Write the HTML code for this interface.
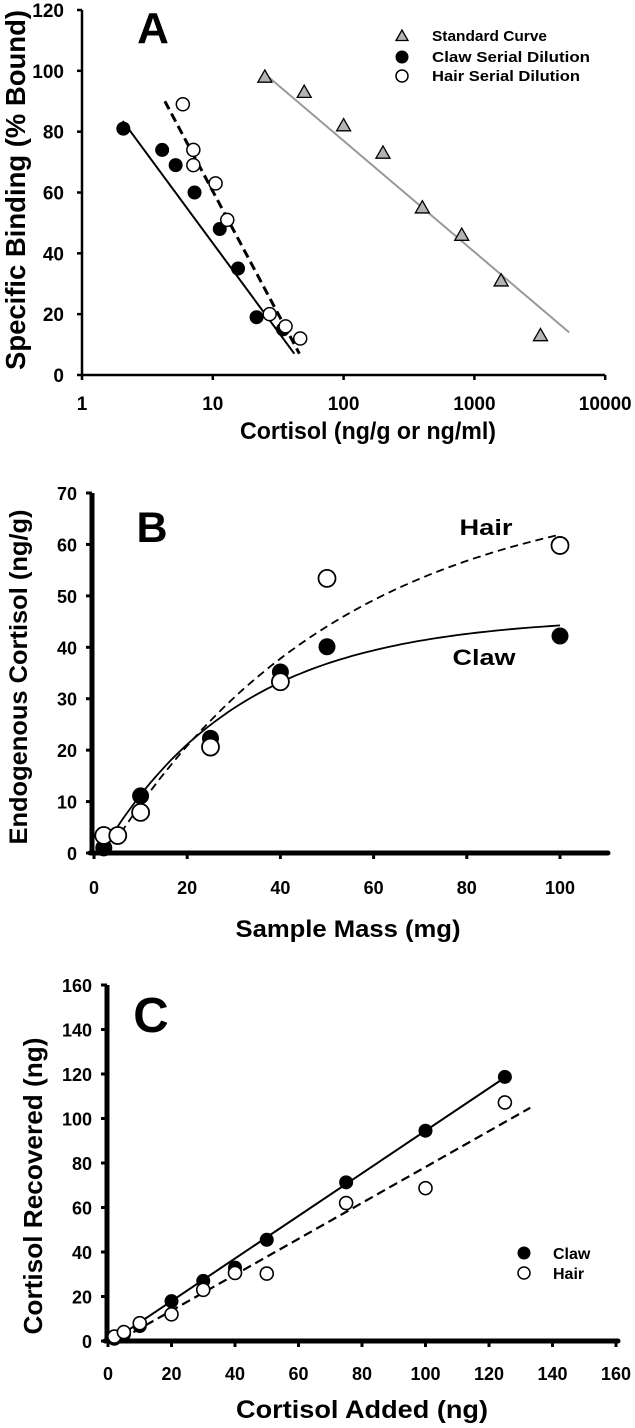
<!DOCTYPE html>
<html><head><meta charset="utf-8">
<style>
html,body{margin:0;padding:0;background:#fff;}
svg{display:block;font-family:"Liberation Sans",Arial,sans-serif;font-weight:bold;}
</style></head>
<body>
<svg id="fig" width="635" height="1428" viewBox="0 0 635 1428" xmlns="http://www.w3.org/2000/svg"></svg>
<script>
// ---------- Panel A data ----------
const aTicksX = [1, 10, 100, 1000, 10000];
const aTicksY = [0, 20, 40, 60, 80, 100, 120];
const stdX = [25, 50, 100, 200, 400, 800, 1600, 3200];
const stdY = [98, 93, 82, 73, 55, 46, 31, 13];
const clawAX = [2.07, 4.1, 5.2, 7.25, 11.3, 15.6, 21.6, 34.4];
const clawAY = [81, 74, 69, 60, 48, 35, 19, 15];
const hairAX = [5.9, 7.1, 7.1, 10.5, 12.9, 27.2, 36, 46.6];
const hairAY = [89, 74, 69, 63, 51, 20, 16, 12];
const stdLineX = [25, 5300];
const stdLineY = [99, 14];
const clawALineX = [2.05, 42];
const clawALineY = [83.5, 7];
const hairALineX = [4.3, 45.9];
const hairALineY = [90, 7];

// ---------- Panel B data ----------
const bTicksX = [0, 20, 40, 60, 80, 100];
const bTicksY = [0, 10, 20, 30, 40, 50, 60, 70];
const clawBX = [2.1, 10, 25, 40, 50, 100];
const clawBY = [1, 11.1, 22.3, 35.2, 40.1, 42.2];
const hairBX = [2.1, 5.1, 10, 25, 40, 50, 100];
const hairBY = [3.4, 3.4, 7.9, 20.6, 33.3, 53.4, 59.8];
// fit curve params: y = a*(1-exp(-b*(x-x0)))
const clawBFit = [46, 0.0332, 1.5];
const hairBFit = [72.3, 0.02, 3];
const clawBRange = [3.4, 100];
const hairBRange = [4.3, 100];

// ---------- Panel C data ----------
const cTicksX = [0, 20, 40, 60, 80, 100, 120, 140, 160];
const cTicksY = [0, 20, 40, 60, 80, 100, 120, 140, 160];
const clawCX = [2, 5, 10, 20, 30, 40, 50, 75, 100, 125];
const clawCY = [1, 3, 6.7, 17.9, 27, 33, 45.5, 71.3, 94.5, 118.7];
const hairCX = [2, 5, 10, 20, 30, 40, 50, 75, 100, 125];
const hairCY = [2, 4, 8, 12, 23, 30.6, 30.3, 62, 68.7, 107.2];
const clawCFit = [0.957, -1.2];
const hairCFit = [0.807, -2.5];
const clawCRange = [2.8, 125];
const hairCRange = [8, 133];

const NS = "http://www.w3.org/2000/svg";
const svg = document.getElementById('fig');
function mk(tag, attrs, parent, text){
  const e = document.createElementNS(NS, tag);
  for (const k in attrs) e.setAttribute(k, attrs[k]);
  if (text !== undefined) e.textContent = text;
  (parent || svg).appendChild(e);
  return e;
}

// ===== Panel A =====
const gA = mk('g', {});


const aX0 = 82, aDec = 130.8, aY0 = 375, aYs = (375 - 10) / 120;
const ax = v => aX0 + Math.log10(v) * aDec;
const ay = v => aY0 - v * aYs;
let e;
e = mk('line', {x1: aX0, y1: ay(120), x2: aX0, y2: aY0, stroke: '#000', 'stroke-width': 2.5}, gA);
 
e = mk('line', {x1: aX0, y1: aY0, x2: ax(10000), y2: aY0, stroke: '#000', 'stroke-width': 2.5}, gA);
 
aTicksY.forEach(t => {
  mk('line', {x1: aX0 - 5, y1: ay(t), x2: aX0, y2: ay(t), stroke: '#000', 'stroke-width': 2.5}, gA);
  e = mk('text', {x: aX0 - 18, y: ay(t) + 7, 'text-anchor': 'end', 'font-size': 19}, gA, String(t));
   
});
aTicksX.forEach(t => {
  mk('line', {x1: ax(t), y1: aY0, x2: ax(t), y2: aY0 + 5, stroke: '#000', 'stroke-width': 2.5}, gA);
  e = mk('text', {x: ax(t), y: 410, 'text-anchor': 'middle', 'font-size': 19}, gA, String(t));
   
});
e = mk('text', {x: 368, y: 439, 'text-anchor': 'middle', 'font-size': 24, textLength: 256, lengthAdjust: 'spacingAndGlyphs'}, gA, 'Cortisol (ng/g or ng/ml)');
 
e = mk('text', {x: 0, y: 0, 'text-anchor': 'middle', 'font-size': 28, textLength: 360, lengthAdjust: 'spacingAndGlyphs', transform: 'translate(25,190) rotate(-90)'}, gA, 'Specific Binding (% Bound)');
 
e = mk('text', {x: 153, y: 43, 'text-anchor': 'middle', 'font-size': 44}, gA, 'A');
 
e = mk('line', {x1: ax(stdLineX[0]), y1: ay(stdLineY[0]), x2: ax(stdLineX[1]), y2: ay(stdLineY[1]), stroke: '#999', 'stroke-width': 2}, gA);
 
e = mk('line', {x1: ax(clawALineX[0]), y1: ay(clawALineY[0]), x2: ax(clawALineX[1]), y2: ay(clawALineY[1]), stroke: '#000', 'stroke-width': 2}, gA);
 
e = mk('line', {x1: ax(hairALineX[0]), y1: ay(hairALineY[0]), x2: ax(hairALineX[1]), y2: ay(hairALineY[1]), stroke: '#000', 'stroke-width': 3, 'stroke-dasharray': '9,5'}, gA);
 
function tri(cx, cy, s, parent){
  return mk('polygon', {points: `${cx},${cy - s} ${cx - s},${cy + s * 0.75} ${cx + s},${cy + s * 0.75}`, fill: '#b3b3b3', stroke: '#000', 'stroke-width': 1.3}, parent);
}
stdX.forEach((v, i) => {
  e = tri(ax(v), ay(stdY[i]), 7, gA);
   
});
clawAX.forEach((v, i) => {
  e = mk('circle', {cx: ax(v), cy: ay(clawAY[i]), r: 7, fill: '#000'}, gA);
   
});
hairAX.forEach((v, i) => {
  e = mk('circle', {cx: ax(v), cy: ay(hairAY[i]), r: 6.5, fill: '#fff', stroke: '#000', 'stroke-width': 1.5}, gA);
   
});
const lgA = mk('g', {}, gA);
 
e = tri(402, 36, 6, lgA);  
e = mk('circle', {cx: 402, cy: 57, r: 6.5, fill: '#000'}, lgA);  
e = mk('circle', {cx: 402, cy: 76, r: 6, fill: '#fff', stroke: '#000', 'stroke-width': 1.5}, lgA);  
[['Standard Curve', 41, 115], ['Claw Serial Dilution', 62, 158], ['Hair Serial Dilution', 81, 148]].forEach(r => {
  e = mk('text', {x: 432, y: r[1], 'font-size': 15, textLength: r[2], lengthAdjust: 'spacingAndGlyphs'}, lgA, r[0]);
   
});

// ===== Panel B =====
const gB = mk('g', {});


const bX0 = 94, bXs = (560 - 94) / 100, bY0 = 853, bYs = (853 - 493) / 70;
const bx = v => bX0 + v * bXs;
const by = v => bY0 - v * bYs;
e = mk('line', {x1: 92, y1: by(70), x2: 92, y2: bY0, stroke: '#000', 'stroke-width': 5}, gB);
 
e = mk('line', {x1: 90, y1: bY0, x2: 608, y2: bY0, stroke: '#000', 'stroke-width': 5, 'stroke-linecap': 'round'}, gB);
 
bTicksY.forEach(t => {
  mk('line', {x1: 86, y1: by(t), x2: 92, y2: by(t), stroke: '#000', 'stroke-width': 3}, gB);
  e = mk('text', {x: 77, y: by(t) + 7, 'text-anchor': 'end', 'font-size': 18}, gB, String(t));
   
});
bTicksX.forEach(t => {
  mk('line', {x1: bx(t), y1: bY0, x2: bx(t), y2: bY0 + 6, stroke: '#000', 'stroke-width': 3}, gB);
  e = mk('text', {x: bx(t), y: 894, 'text-anchor': 'middle', 'font-size': 18}, gB, String(t));
   
});
e = mk('text', {x: 348, y: 937, 'text-anchor': 'middle', 'font-size': 24, textLength: 225, lengthAdjust: 'spacingAndGlyphs'}, gB, 'Sample Mass (mg)');
 
e = mk('text', {x: 0, y: 0, 'text-anchor': 'middle', 'font-size': 25, textLength: 335, lengthAdjust: 'spacingAndGlyphs', transform: 'translate(27,677) rotate(-90)'}, gB, 'Endogenous Cortisol (ng/g)');
 
e = mk('text', {x: 152, y: 542, 'text-anchor': 'middle', 'font-size': 43}, gB, 'B');
 
e = mk('text', {x: 486, y: 535, 'text-anchor': 'middle', 'font-size': 22, textLength: 53, lengthAdjust: 'spacingAndGlyphs'}, gB, 'Hair');
 
e = mk('text', {x: 484, y: 665, 'text-anchor': 'middle', 'font-size': 22, textLength: 63, lengthAdjust: 'spacingAndGlyphs'}, gB, 'Claw');
 
function curvePath(fit, range){
  let d = '';
  for (let i = 0; i <= 80; i++) {
    const x = range[0] + (range[1] - range[0]) * i / 80;
    const y = fit[0] * (1 - Math.exp(-fit[1] * (x - fit[2])));
    d += (i ? 'L' : 'M') + bx(x).toFixed(1) + ',' + by(y).toFixed(1);
  }
  return d;
}
e = mk('path', {d: curvePath(clawBFit, clawBRange), fill: 'none', stroke: '#000', 'stroke-width': 1.8}, gB);
 
e = mk('path', {d: curvePath(hairBFit, hairBRange), fill: 'none', stroke: '#000', 'stroke-width': 1.8, 'stroke-dasharray': '8,5'}, gB);
 
clawBX.forEach((v, i) => {
  e = mk('circle', {cx: bx(v), cy: by(clawBY[i]), r: 8.5, fill: '#000'}, gB);
   
});
hairBX.forEach((v, i) => {
  e = mk('circle', {cx: bx(v), cy: by(hairBY[i]), r: 8.5, fill: '#fff', stroke: '#000', 'stroke-width': 1.8}, gB);
   
});

// ===== Panel C =====
const gC = mk('g', {});


const cX0 = 108, cXs = (616 - 108) / 160, cY0 = 1341, cYs = (1341 - 985) / 160;
const cx = v => cX0 + v * cXs;
const cy = v => cY0 - v * cYs;
e = mk('line', {x1: 107, y1: cy(160), x2: 107, y2: cY0, stroke: '#000', 'stroke-width': 5}, gC);
 
e = mk('line', {x1: 105, y1: cY0, x2: 618, y2: cY0, stroke: '#000', 'stroke-width': 5, 'stroke-linecap': 'round'}, gC);
 
cTicksY.forEach(t => {
  mk('line', {x1: 101, y1: cy(t), x2: 107, y2: cy(t), stroke: '#000', 'stroke-width': 3}, gC);
  e = mk('text', {x: 92, y: cy(t) + 7, 'text-anchor': 'end', 'font-size': 18}, gC, String(t));
   
});
cTicksX.forEach(t => {
  mk('line', {x1: cx(t), y1: cY0, x2: cx(t), y2: cY0 + 6, stroke: '#000', 'stroke-width': 3}, gC);
  e = mk('text', {x: cx(t), y: 1380, 'text-anchor': 'middle', 'font-size': 18}, gC, String(t));
   
});
e = mk('text', {x: 362, y: 1418, 'text-anchor': 'middle', 'font-size': 25, textLength: 252, lengthAdjust: 'spacingAndGlyphs'}, gC, 'Cortisol Added (ng)');
 
e = mk('text', {x: 0, y: 0, 'text-anchor': 'middle', 'font-size': 26, textLength: 297, lengthAdjust: 'spacingAndGlyphs', transform: 'translate(42,1186) rotate(-90)'}, gC, 'Cortisol Recovered (ng)');
 
e = mk('text', {x: 151, y: 1032, 'text-anchor': 'middle', 'font-size': 49}, gC, 'C');
 
e = mk('line', {x1: cx(clawCRange[0]), y1: cy(clawCFit[0] * clawCRange[0] + clawCFit[1]), x2: cx(clawCRange[1]), y2: cy(clawCFit[0] * clawCRange[1] + clawCFit[1]), stroke: '#000', 'stroke-width': 2}, gC);
 
e = mk('line', {x1: cx(hairCRange[0]), y1: cy(hairCFit[0] * hairCRange[0] + hairCFit[1]), x2: cx(hairCRange[1]), y2: cy(hairCFit[0] * hairCRange[1] + hairCFit[1]), stroke: '#000', 'stroke-width': 2.2, 'stroke-dasharray': '9,5'}, gC);
 
clawCX.forEach((v, i) => {
  e = mk('circle', {cx: cx(v), cy: cy(clawCY[i]), r: 7, fill: '#000'}, gC);
   
});
hairCX.forEach((v, i) => {
  e = mk('circle', {cx: cx(v), cy: cy(hairCY[i]), r: 6.5, fill: '#fff', stroke: '#000', 'stroke-width': 1.6}, gC);
   
});
const lgC = mk('g', {}, gC);
 
e = mk('circle', {cx: 524, cy: 1253, r: 6.5, fill: '#000'}, lgC);  
e = mk('circle', {cx: 524, cy: 1273, r: 6, fill: '#fff', stroke: '#000', 'stroke-width': 1.5}, lgC);  
e = mk('text', {x: 553, y: 1259, 'font-size': 16}, lgC, 'Claw');  
e = mk('text', {x: 553, y: 1279, 'font-size': 16}, lgC, 'Hair');  
</script>
</body></html>
